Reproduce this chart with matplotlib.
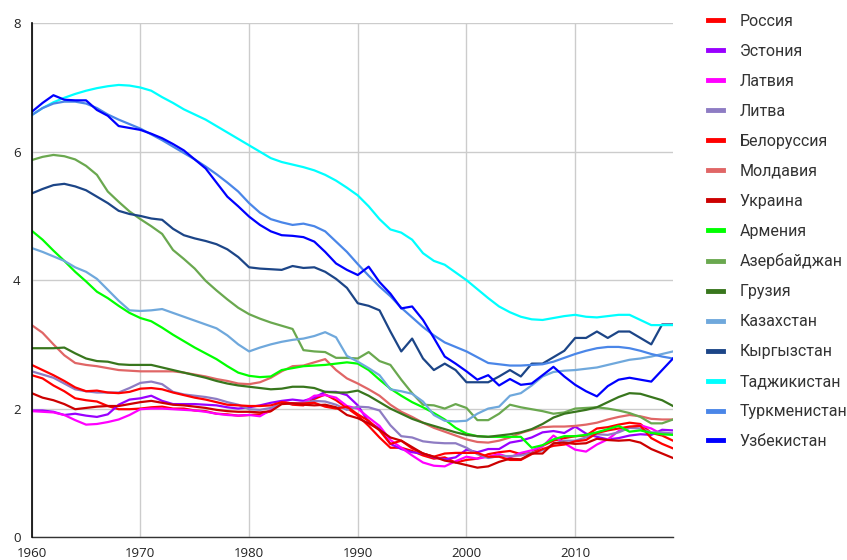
import matplotlib
matplotlib.use("Agg")
import matplotlib.pyplot as plt
from matplotlib.lines import Line2D

plt.rcParams['font.family'] = ['Liberation Sans', 'DejaVu Sans']

years = list(range(1960, 2020))

russia = [2.52, 2.47, 2.36, 2.27, 2.16, 2.13, 2.11, 2.04, 1.99, 1.99, 2.0, 2.02, 2.03, 2.0, 2.0, 1.97, 1.96, 1.92, 1.91, 1.89,
          1.9, 1.91, 1.96, 2.11, 2.06, 2.05, 2.15, 2.22, 2.13, 2.01, 1.89, 1.73, 1.55, 1.39, 1.39, 1.34, 1.27, 1.22, 1.24, 1.16,
          1.2, 1.22, 1.29, 1.32, 1.34, 1.29, 1.31, 1.42, 1.5, 1.54, 1.57, 1.58, 1.69, 1.71, 1.75, 1.78, 1.76, 1.62, 1.58, 1.5]
estonia = [1.97, 1.97, 1.95, 1.9, 1.92, 1.89, 1.87, 1.91, 2.06, 2.14, 2.16, 2.2, 2.12, 2.07, 2.07, 2.07, 2.06, 2.05, 2.02, 2.0,
           2.02, 2.05, 2.09, 2.12, 2.14, 2.12, 2.17, 2.26, 2.26, 2.21, 2.05, 1.79, 1.69, 1.45, 1.37, 1.32, 1.3, 1.24, 1.21, 1.24,
           1.36, 1.32, 1.37, 1.37, 1.47, 1.5, 1.55, 1.63, 1.65, 1.62, 1.72, 1.61, 1.56, 1.52, 1.54, 1.58, 1.6, 1.59, 1.67, 1.66]
latvia = [1.96, 1.95, 1.94, 1.9, 1.82, 1.75, 1.76, 1.79, 1.83, 1.9, 1.99, 2.0, 2.0, 1.99, 1.98, 1.97, 1.95, 1.92, 1.9, 1.89,
          1.9, 1.88, 1.98, 2.1, 2.08, 2.09, 2.2, 2.21, 2.17, 2.04, 2.0, 1.86, 1.73, 1.51, 1.39, 1.27, 1.16, 1.11, 1.1, 1.18,
          1.25, 1.22, 1.25, 1.29, 1.24, 1.31, 1.35, 1.41, 1.58, 1.46, 1.36, 1.33, 1.44, 1.52, 1.65, 1.7, 1.74, 1.69, 1.6, 1.61]
lithuania = [2.58, 2.53, 2.48, 2.39, 2.3, 2.27, 2.25, 2.25, 2.25, 2.32, 2.4, 2.42, 2.38, 2.26, 2.22, 2.2, 2.18, 2.15, 2.1, 2.06,
             1.99, 1.98, 2.01, 2.08, 2.08, 2.09, 2.12, 2.11, 2.06, 1.98, 2.03, 2.02, 1.97, 1.74, 1.57, 1.55, 1.49, 1.47, 1.46, 1.46,
             1.39, 1.29, 1.23, 1.26, 1.26, 1.27, 1.31, 1.35, 1.45, 1.5, 1.5, 1.55, 1.6, 1.59, 1.63, 1.7, 1.69, 1.63, 1.63, 1.61]
belarus = [2.68, 2.6, 2.52, 2.43, 2.33, 2.27, 2.28, 2.25, 2.24, 2.26, 2.31, 2.32, 2.3, 2.25, 2.21, 2.17, 2.14, 2.1, 2.06, 2.05,
           2.04, 2.04, 2.05, 2.1, 2.08, 2.08, 2.09, 2.03, 2.0, 2.03, 1.91, 1.81, 1.66, 1.45, 1.5, 1.38, 1.3, 1.25, 1.3, 1.31,
           1.31, 1.31, 1.25, 1.25, 1.2, 1.2, 1.29, 1.37, 1.42, 1.44, 1.49, 1.51, 1.62, 1.66, 1.69, 1.72, 1.73, 1.54, 1.45, 1.38]
moldova = [3.3, 3.18, 3.0, 2.83, 2.71, 2.68, 2.66, 2.63, 2.6, 2.59, 2.58, 2.58, 2.58, 2.58, 2.56, 2.53, 2.5, 2.46, 2.43, 2.39,
           2.38, 2.41, 2.48, 2.58, 2.66, 2.67, 2.72, 2.77, 2.6, 2.47, 2.39, 2.3, 2.2, 2.06, 1.95, 1.87, 1.78, 1.7, 1.64, 1.58,
           1.52, 1.48, 1.47, 1.5, 1.55, 1.62, 1.67, 1.71, 1.72, 1.72, 1.73, 1.75, 1.78, 1.83, 1.87, 1.9, 1.88, 1.84, 1.83, 1.83]
ukraine = [2.24, 2.17, 2.13, 2.07, 1.99, 2.01, 2.03, 2.04, 2.04, 2.07, 2.1, 2.12, 2.09, 2.06, 2.05, 2.03, 2.01, 1.98, 1.96, 1.95,
           1.95, 1.94, 1.96, 2.07, 2.08, 2.06, 2.05, 2.06, 2.02, 1.9, 1.85, 1.77, 1.67, 1.55, 1.5, 1.4, 1.3, 1.25, 1.19, 1.16,
           1.12, 1.08, 1.1, 1.17, 1.22, 1.21, 1.3, 1.3, 1.46, 1.47, 1.45, 1.46, 1.53, 1.51, 1.5, 1.51, 1.47, 1.37, 1.3, 1.23]
armenia = [4.77, 4.63, 4.46, 4.3, 4.13, 3.98, 3.82, 3.72, 3.6, 3.49, 3.41, 3.36, 3.26, 3.15, 3.05, 2.95, 2.86, 2.77, 2.66, 2.56,
           2.51, 2.49, 2.5, 2.6, 2.63, 2.66, 2.67, 2.68, 2.7, 2.72, 2.7, 2.6, 2.45, 2.31, 2.2, 2.1, 2.02, 1.93, 1.83, 1.7,
           1.61, 1.57, 1.56, 1.56, 1.56, 1.56, 1.39, 1.43, 1.52, 1.57, 1.57, 1.59, 1.63, 1.68, 1.73, 1.64, 1.66, 1.62, 1.6, 1.59]
azerbaijan = [5.87, 5.92, 5.95, 5.93, 5.88, 5.78, 5.64, 5.38, 5.22, 5.07, 4.95, 4.84, 4.72, 4.47, 4.33, 4.18, 3.99, 3.84, 3.7, 3.57,
              3.47, 3.4, 3.34, 3.29, 3.24, 2.91, 2.89, 2.88, 2.79, 2.79, 2.78, 2.88, 2.74, 2.68, 2.45, 2.24, 2.06, 2.05, 2.0, 2.07,
              2.01, 1.82, 1.82, 1.92, 2.06, 2.02, 1.99, 1.96, 1.92, 1.94, 2.0, 2.01, 2.02, 2.0, 1.97, 1.93, 1.87, 1.77, 1.77, 1.83]
georgia = [2.94, 2.94, 2.94, 2.95, 2.86, 2.78, 2.74, 2.73, 2.69, 2.68, 2.68, 2.68, 2.64, 2.6, 2.56, 2.52, 2.48, 2.43, 2.39, 2.36,
           2.34, 2.32, 2.3, 2.31, 2.34, 2.34, 2.32, 2.26, 2.25, 2.25, 2.28, 2.2, 2.1, 2.0, 1.92, 1.84, 1.78, 1.73, 1.68, 1.63,
           1.59, 1.57, 1.56, 1.58, 1.6, 1.63, 1.68, 1.76, 1.86, 1.92, 1.95, 1.98, 2.02, 2.1, 2.18, 2.24, 2.23, 2.18, 2.13, 2.04]
kazakhstan = [4.5, 4.44, 4.37, 4.3, 4.2, 4.13, 4.02, 3.85, 3.68, 3.53, 3.52, 3.53, 3.55, 3.49, 3.43, 3.37, 3.31, 3.25, 3.14, 3.0,
              2.89, 2.95, 3.0, 3.04, 3.07, 3.09, 3.13, 3.19, 3.11, 2.82, 2.73, 2.63, 2.52, 2.3, 2.27, 2.23, 2.11, 1.9, 1.81, 1.8,
              1.81, 1.92, 2.0, 2.03, 2.2, 2.24, 2.36, 2.5, 2.57, 2.59, 2.6, 2.62, 2.64, 2.68, 2.72, 2.76, 2.78, 2.81, 2.85, 2.89]
kyrgyzstan = [5.35, 5.42, 5.48, 5.5, 5.46, 5.4, 5.3, 5.2, 5.08, 5.03, 5.0, 4.96, 4.94, 4.8, 4.7, 4.65, 4.61, 4.56, 4.48, 4.36,
              4.2, 4.18, 4.17, 4.16, 4.22, 4.19, 4.2, 4.13, 4.02, 3.88, 3.64, 3.6, 3.53, 3.2, 2.89, 3.09, 2.78, 2.6, 2.7, 2.6,
              2.41, 2.41, 2.41, 2.5, 2.6, 2.5, 2.7, 2.7, 2.8, 2.9, 3.1, 3.1, 3.2, 3.1, 3.2, 3.2, 3.1, 3.0, 3.31, 3.31]
tajikistan = [6.57, 6.68, 6.77, 6.84, 6.9, 6.95, 6.99, 7.02, 7.04, 7.03, 7.0, 6.95, 6.85, 6.76, 6.66, 6.58, 6.5, 6.4, 6.3, 6.2,
              6.1, 6.0, 5.9, 5.84, 5.8, 5.76, 5.71, 5.64, 5.55, 5.44, 5.32, 5.15, 4.95, 4.79, 4.74, 4.63, 4.42, 4.3, 4.24, 4.12,
              4.0, 3.86, 3.72, 3.59, 3.5, 3.43, 3.39, 3.38, 3.41, 3.44, 3.46, 3.43, 3.42, 3.44, 3.46, 3.46, 3.38, 3.3, 3.3, 3.3]
turkmenistan = [6.57, 6.68, 6.75, 6.78, 6.78, 6.75, 6.68, 6.58, 6.5, 6.43, 6.36, 6.27, 6.18, 6.08, 5.98, 5.88, 5.77, 5.65, 5.52, 5.38,
                5.2, 5.05, 4.95, 4.9, 4.86, 4.88, 4.84, 4.76, 4.6, 4.44, 4.25, 4.07, 3.9, 3.75, 3.57, 3.42, 3.27, 3.14, 3.03, 2.96,
                2.89, 2.8, 2.71, 2.69, 2.67, 2.67, 2.68, 2.69, 2.73, 2.79, 2.85, 2.9, 2.94, 2.96, 2.96, 2.94, 2.9, 2.85, 2.81, 2.78]
uzbekistan = [6.62, 6.76, 6.88, 6.81, 6.8, 6.8, 6.65, 6.56, 6.4, 6.37, 6.34, 6.28, 6.21, 6.12, 6.02, 5.88, 5.74, 5.52, 5.3, 5.15,
              4.99, 4.86, 4.76, 4.7, 4.69, 4.67, 4.6, 4.44, 4.26, 4.16, 4.08, 4.21, 3.97, 3.79, 3.56, 3.59, 3.38, 3.1, 2.81, 2.7,
              2.58, 2.45, 2.52, 2.36, 2.46, 2.37, 2.39, 2.52, 2.65, 2.5, 2.37, 2.27, 2.19, 2.35, 2.45, 2.48, 2.45, 2.42, 2.6, 2.78]

names = ["Россия", "Эстония", "Латвия", "Литва", "Белоруссия", "Молдавия", "Украина", "Армения",
         "Азербайджан", "Грузия", "Казахстан", "Кыргызстан", "Таджикистан", "Туркменистан", "Узбекистан"]
series = [russia, estonia, latvia, lithuania, belarus, moldova, ukraine, armenia,
          azerbaijan, georgia, kazakhstan, kyrgyzstan, tajikistan, turkmenistan, uzbekistan]
colors = ["#ff0000", "#9900ff", "#ff00ff", "#8e7cc3", "#ff0000", "#e06666", "#cc0000", "#00ff00",
          "#6aa84f", "#38761d", "#6fa8dc", "#1c4587", "#00ffff", "#4a86e8", "#0000ff"]

fig = plt.figure(figsize=(8.47, 5.6), dpi=100)
ax = fig.add_axes([31.7 / 847, 1 - 537 / 560, (673 - 31.7) / 847, (537 - 23.3) / 560])

for vals, c in zip(series, colors):
    ax.plot(years, vals, color=c, lw=1.6, solid_joinstyle='round', zorder=3)

ax.set_xlim(1960, 2019)
ax.set_ylim(0, 8)
ax.set_xticks([1960, 1970, 1980, 1990, 2000, 2010])
ax.set_yticks([0, 2, 4, 6, 8])
ax.grid(True, color="#cccccc", lw=1.0)
ax.set_axisbelow(True)
for s in ["top", "right"]:
    ax.spines[s].set_visible(False)
ax.spines["left"].set_color("#000000")
ax.spines["bottom"].set_color("#333333")
ax.spines["left"].set_linewidth(1.2)
ax.spines["bottom"].set_linewidth(1.0)
ax.spines["left"].set_zorder(4)
ax.tick_params(length=0, labelsize=9.5, colors="#222222", pad=8)
ax.tick_params(axis='x', pad=7)
for lbl in ax.get_xticklabels() + ax.get_yticklabels():
    lbl.set_fontfamily(['Open Sans', 'DejaVu Sans'])

handles = [Line2D([0], [0], color=c, lw=3.5) for c in colors]
fig.legend(handles, names, loc="upper left", bbox_to_anchor=(708 / 847, 1 - 14 / 560),
           frameon=False, prop={'family': ['Roboto', 'DejaVu Sans'], 'size': 11.5},
           handlelength=0.95, handletextpad=1.05,
           labelspacing=0.935, borderaxespad=0, borderpad=0, labelcolor="#333333")

fig.savefig("out.png", dpi=100)
